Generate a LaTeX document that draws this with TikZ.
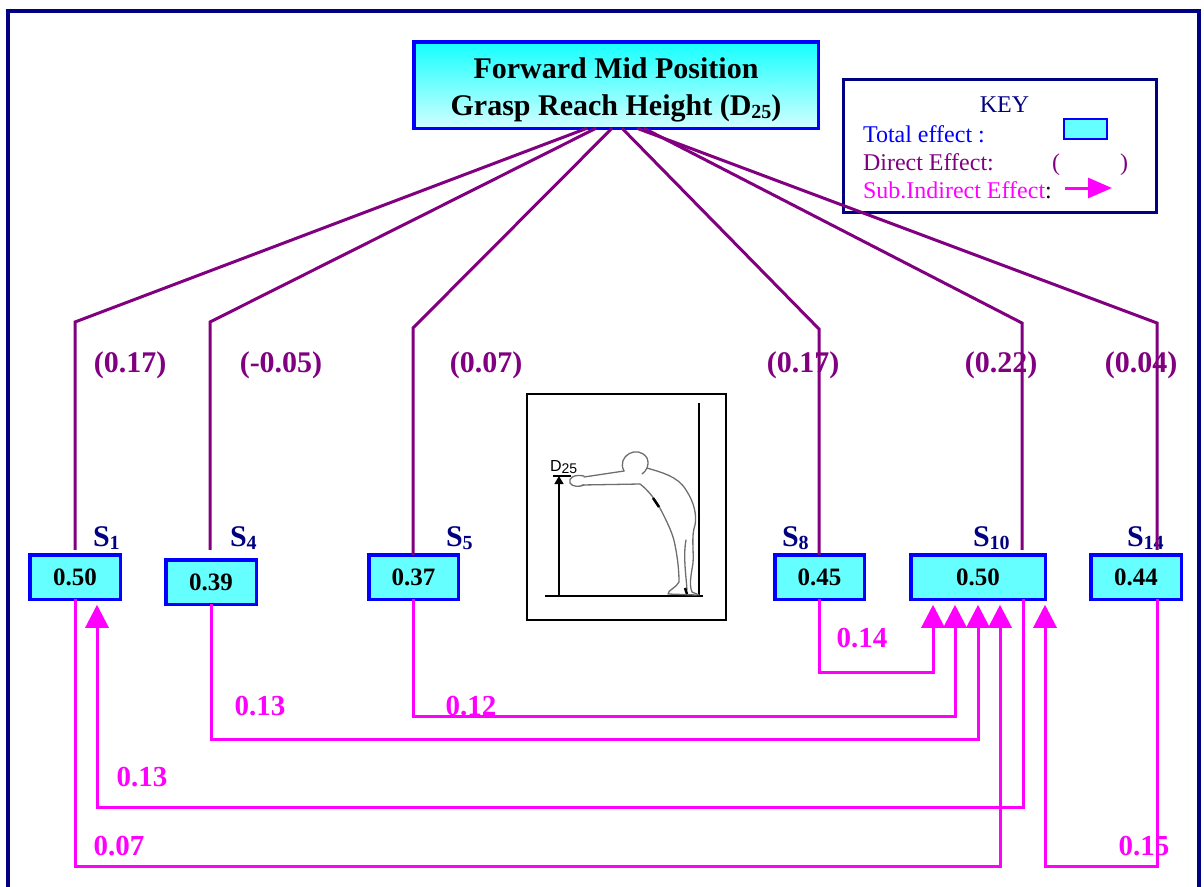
\documentclass[tikz,border=0pt]{standalone}
\usepackage{fontspec}
\setmainfont{Liberation Serif}
\newfontfamily\figsans{Liberation Sans}
\usetikzlibrary{arrows.meta,calc}

\definecolor{navyc}{RGB}{0,0,128}
\definecolor{bluec}{RGB}{0,0,255}
\definecolor{purplec}{RGB}{128,0,128}
\definecolor{magc}{RGB}{255,0,255}
\definecolor{boxcyan}{RGB}{102,255,255}
\definecolor{titletop}{RGB}{20,255,255}
\definecolor{titlebot}{RGB}{210,255,255}
\definecolor{sketch}{RGB}{110,110,110}

\newcommand{\pxfont}[2]{\fontsize{#1}{#2}\selectfont}
\newcommand{\lowsub}[2]{\raisebox{-3pt}{\pxfont{#1}{#1}#2}}

\begin{document}
\begin{tikzpicture}[x=1pt,y=-1pt,
  every node/.style={inner sep=0pt, outer sep=0pt},
  total/.style={draw=bluec, line width=3.5pt, fill=boxcyan, minimum height=44.5pt,
    font=\pxfont{25}{25}\bfseries},
  direct/.style={draw=purplec, line width=3pt},
  indirect/.style={draw=magc, line width=3pt, -{Triangle[width=23pt,length=23pt]}},
  dlabel/.style={text=purplec, font=\pxfont{30}{30}\bfseries, anchor=base},
  ilabel/.style={text=magc, font=\pxfont{29}{29}\bfseries, anchor=base},
  slabel/.style={text=navyc, font=\pxfont{30}{30}\bfseries, anchor=base west},
  keytext/.style={font=\pxfont{24}{24}, anchor=base west},
]
\useasboundingbox (0,0) rectangle (1204,886);

% outer frame (open at the bottom of the page)
\draw[navyc, line width=3.5pt] (8,11) rectangle (1199,900);

% dependent variable
\node[draw=bluec, line width=3.5pt, top color=titletop, bottom color=titlebot,
      minimum width=404.5pt, minimum height=86.5pt, align=center,
      font=\pxfont{30}{37}\bfseries] (title) at (616,85)
  {\rule{0pt}{30pt}Forward Mid Position\\Grasp Reach Height (D\lowsub{20}{25})};

% key
\node[draw=navyc, line width=3pt, minimum width=313pt, minimum height=133pt] (key) at (1000,146) {};
\node[keytext, text=navyc, anchor=base] (keyttl) at (1004.5,112) {KEY};
\node[keytext, text=bluec] (ktot) at (863,142) {Total effect :};
\node[draw=bluec, line width=2pt, fill=boxcyan, minimum width=43pt, minimum height=20pt] (ksw) at (1085.5,129) {};
\node[keytext, text=purplec] (kdir) at (863,170) {Direct Effect:};
\node[keytext, text=purplec] (kpl) at (1052,170) {(};
\node[keytext, text=purplec] (kpr) at (1120,170) {)};
\node[keytext, text=magc] (kind) at (863,198) {Sub.Indirect Effect\textcolor{black}{:}};
\coordinate (ka) at (1065,188);
\coordinate (kb) at (1112,188);
\draw[magc, line width=3pt, -{Triangle[width=20pt,length=24pt]}] (ka) -- (kb);

% total effect boxes
\node[total, minimum width=90.5pt] (s1) at (75,577) {0.50};
\node[total, minimum width=90.5pt] (s4) at (211,582) {0.39};
\node[total, minimum width=89.5pt] (s5) at (413.5,577) {0.37};
\node[total, minimum width=89.5pt] (s8) at (819.5,577) {0.45};
\node[total, minimum width=134.5pt] (s10) at (978,577) {0.50};
\node[total, minimum width=90.5pt] (s14) at (1136,577) {0.44};

% variable names
\node[slabel] (n1) at (93,546) {S\lowsub{20}{1}};
\node[slabel] (n4) at (230,546) {S\lowsub{20}{4}};
\node[slabel] (n5) at (446,546) {S\lowsub{20}{5}};
\node[slabel] (n8) at (782,546) {S\lowsub{20}{8}};
\node[slabel] (n10) at (973,546) {S\lowsub{20}{10}};
\node[slabel] (n14) at (1127,546) {S\lowsub{20}{14}};

% direct effects
\node[dlabel] (d1) at (130,372) {(0.17)};
\node[dlabel] (d4) at (281,372) {(-0.05)};
\node[dlabel] (d5) at (486,372) {(0.07)};
\node[dlabel] (d8) at (803,372) {(0.17)};
\node[dlabel] (d10) at (1001,372) {(0.22)};
\node[dlabel] (d14) at (1141,372) {(0.04)};

% indirect effects
\node[ilabel] (i8) at (862,647) {0.14};
\node[ilabel] (i5) at (471,715) {0.12};
\node[ilabel] (i4) at (260,715) {0.13};
\node[ilabel] (i10) at (142,786) {0.13};
\node[ilabel] (i1) at (119,855) {0.07};
\node[ilabel] (i14) at (1144,855) {0.15};

% bends of the direct-effect lines
\coordinate (b1) at (75,322);
\coordinate (b4) at (210,322);
\coordinate (b5) at (413,328);
\coordinate (b8) at (819,329);
\coordinate (b10) at (1022,323);
\coordinate (b14) at (1157,323);

\draw[direct, shorten >=5pt] ($(title.south)+(-29,0)$) -- (b1) -- (s1.north);
\draw[direct, shorten >=10pt] ($(title.south)+(-20,0)$) -- (b4) -- (b4 |- s4.north);
\draw[direct] ($(title.south)+(-4,0)$) -- (b5) -- (b5 |- s5.north);
\draw[direct] ($(title.south)+(6,0)$) -- (b8) -- (b8 |- s8.north);
\draw[direct, shorten >=5pt] ($(title.south)+(28,0)$) -- (b10) -- (b10 |- s10.north);
\draw[direct, shorten >=5pt] ($(title.south)+(21,0)$) -- (b14) -- (b14 |- s14.north);

% sub-indirect effects
\draw[indirect] (s8.south) -- ++(0,73) -| ($(s10.south)+(-45,5.5)$);
\draw[indirect] (s5.south) -- ++(0,117) -| ($(s10.south)+(-23,5.5)$);
\draw[indirect] (s4.south) -- ++(0,135) -| ($(s10.south)+(0,5.5)$);
\draw[indirect] ($(s10.south)+(45,0)$) -- ++(0,208) -| ($(s1.south)+(22,5.5)$);
\draw[indirect] (s1.south) -- ++(0,267) -| ($(s10.south)+(22,5.5)$);
\draw[indirect] (b14 |- s14.south) -- ++(0,267) -| ($(s10.south)+(67,5.5)$);

% measurement sketch
\node[draw=black, line width=2pt, minimum width=199pt, minimum height=226pt] (fig) at (626.5,507) {};
\draw[black, line width=1.2pt] (699,403) -- (699,596);
\draw[black, line width=1.2pt] (545,596) -- (703,596);
\draw[black, line width=1.2pt, -{Triangle[width=9pt,length=8pt]}] (559,596) -- (559,476);
\draw[black, line width=1.2pt] (553,476) -- (571,476);
\node[font=\figsans\pxfont{16}{16}, anchor=base west] (dlab) at (550,471)
  {D\raisebox{-2pt}{\pxfont{14}{14}25}};
\begin{scope}[sketch, line width=1.3pt, line cap=round, line join=round]
  % head
  \draw (624,471) .. controls (616,456) and (638,444) .. (647,458)
        .. controls (650,466) and (646,471) .. (642,474);
  % arms and hand
  \draw (584,477) -- (624,471);
  \draw (582,485) -- (640,484);
  \draw (584,476) .. controls (574,474) and (568,478) .. (570,483)
        .. controls (572,487) and (580,487) .. (584,485);
  % back and rear leg
  \draw (647,468) .. controls (660,472) and (678,476) .. (686,490)
        .. controls (694,502) and (697,515) .. (695,525)
        .. controls (691,536) and (694,552) .. (693,563)
        .. controls (691,575) and (689,585) .. (692,592) -- (699,595);
  % chest, front leg and foot
  \draw (640,484) .. controls (648,490) and (656,500) .. (662,512)
        .. controls (668,524) and (673,534) .. (675,545)
        .. controls (678,560) and (679,572) .. (679,582)
        .. controls (676,588) and (668,590) .. (668,594) -- (697,595);
  % inner leg
  \draw (686,540) .. controls (683,556) and (686,575) .. (687,590);
\end{scope}
\draw[black, line width=2.5pt] (653,498) -- (659,507);
\draw[black, line width=2.5pt] (685,588) -- (687,594);
\end{tikzpicture}
\end{document}
